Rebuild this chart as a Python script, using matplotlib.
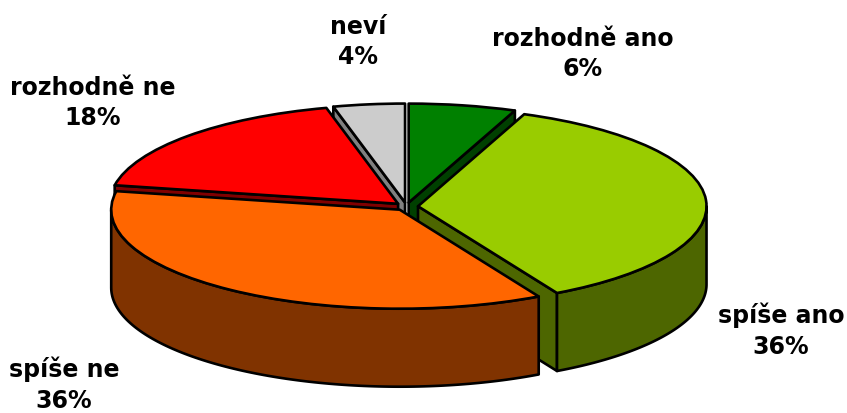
import numpy as np
import matplotlib
matplotlib.use('Agg')
import matplotlib.pyplot as plt

categories = ['rozhodně ano', 'spíše ano', 'spíše ne', 'rozhodně ne', 'neví']
percents = [6, 36, 36, 18, 4]
top_colors = ['#008000', '#99CC00', '#FF6600', '#FF0000', '#CCCCCC']
side_colors = ['#004000', '#4D6600', '#803300', '#800000', '#808080']
# label centres in pixels
label_x = [583, 781, 64, 93, 358]
label_y = [54, 331, 385, 103, 42]
# back slices first, front ones paint over them
draw_order = [4, 0, 3, 1, 2]

W, H = 847, 414
cx, cy = 406.5, 207.5   # pie centre in pixels
rx, ry = 288.5, 99.0    # pie radii in pixels
depth = 78.0 / ry       # wall height in data units
explode = 0.04
lw = 1.9

fig = plt.figure(figsize=(W / 100, H / 100), dpi=100)
ax = fig.add_axes([0, 0, 1, 1])

wedges = ax.pie(percents, explode=[explode] * len(percents), colors=top_colors,
                startangle=90, counterclock=False,
                wedgeprops=dict(edgecolor='black', linewidth=lw))[0]

ax.set_aspect('auto')
ax.set_xlim(-cx / rx, (W - cx) / rx)
ax.set_ylim((cy - H) / ry, cy / ry)
ax.axis('off')

edges = np.cumsum([0] + percents) / sum(percents) * 360.0

for z, i in enumerate(draw_order):
    a0, a1 = edges[i], edges[i + 1]
    mid = np.radians((a0 + a1) / 2)
    ox, oy = explode * np.sin(mid), explode * np.cos(mid)
    base = 10 + z * 10

    # flat cut faces of the slice, only those turned towards the viewer
    faces = []
    if np.sin(np.radians(a0)) < -1e-6:
        faces.append(a0)
    if np.sin(np.radians(a1)) > 1e-6:
        faces.append(a1)
    for a in faces:
        t = np.radians(a)
        xs = [ox, ox + np.sin(t), ox + np.sin(t), ox]
        ys = [oy, oy + np.cos(t), oy + np.cos(t) - depth, oy - depth]
        ax.fill(xs, ys, facecolor=side_colors[i], edgecolor='black',
                linewidth=lw, joinstyle='round', zorder=base)

    # outer wall, only the part facing the viewer
    v0, v1 = max(a0, 90), min(a1, 270)
    if v1 > v0:
        t = np.radians(np.linspace(v0, v1, 120))
        xs = ox + np.sin(t)
        ys = oy + np.cos(t)
        ax.fill(np.r_[xs, xs[::-1]], np.r_[ys, ys[::-1] - depth],
                facecolor=side_colors[i], edgecolor='black',
                linewidth=lw, joinstyle='round', zorder=base + 1)

    wedges[i].set_zorder(base + 2)
    wedges[i].set_joinstyle('round')

for name, pct, x, y in zip(categories, percents, label_x, label_y):
    fig.text(x / W, 1 - y / H, f'{name}\n{pct}%', ha='center', va='center',
             fontsize=17, fontweight='bold', family='DejaVu Sans',
             linespacing=1.36, color='black')

fig.savefig('out.png', dpi=100)
